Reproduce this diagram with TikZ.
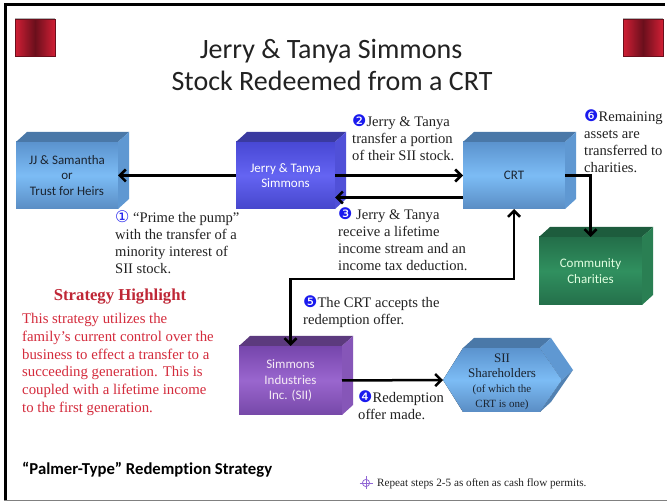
\documentclass[tikz,border=0pt]{standalone}
\usepackage{fontspec}
\setmainfont{Liberation Serif}
\newfontfamily\calfont[Ligatures=NoCommon]{Carlito}
\newfontfamily\symfont{DejaVu Sans}
\usetikzlibrary{arrows.meta,calc}
\definecolor{numblue}{HTML}{1A1AEE}
\definecolor{stratred}{HTML}{D42B3C}
\definecolor{sqred}{HTML}{D01F35}
\definecolor{sqdark}{HTML}{6B0F1C}
\definecolor{txtgray}{HTML}{222222}
\definecolor{blueA}{HTML}{5B93CE}
\definecolor{blueB}{HTML}{7CBCF5}
\definecolor{blueC}{HTML}{5A8DC4}
\definecolor{blueTop}{HTML}{4A78A8}
\definecolor{blueSide}{HTML}{5F98D2}
\definecolor{darktext}{HTML}{1B2430}
\definecolor{purA}{HTML}{4848D4}
\definecolor{purB}{HTML}{6464F2}
\definecolor{purC}{HTML}{4646CC}
\definecolor{purTop}{HTML}{3A3AA0}
\definecolor{purSide}{HTML}{5050D8}
\definecolor{grA}{HTML}{236E49}
\definecolor{grB}{HTML}{30905F}
\definecolor{grC}{HTML}{246F4A}
\definecolor{grTop}{HTML}{1D5C3D}
\definecolor{grSide}{HTML}{2A7F53}
\definecolor{viA}{HTML}{7646AC}
\definecolor{viB}{HTML}{9A66CE}
\definecolor{viC}{HTML}{7648A8}
\definecolor{viTop}{HTML}{5C3A7E}
\definecolor{viSide}{HTML}{8656B8}
\newcommand\cn[1]{{\symfont\fontsize{16}{16}\selectfont\color{numblue}#1}}
\newcommand\cubefaces[3]{%
  \fill[#2] (#1.north west) -- ++(11,-10) -- ([shift={(11,-10)}]#1.north east) -- (#1.north east) -- cycle;
  \fill[#3] (#1.north east) -- ++(11,-10) -- ([shift={(11,-10)}]#1.south east) -- (#1.south east) -- cycle;}
\tikzset{
  face/.style={inner sep=0pt, outer sep=0pt, align=center, font=\calfont\fontsize{13}{15.5}\selectfont},
  lbl/.style={anchor=north west, inner sep=0pt, align=left, text=txtgray, font=\fontsize{14.6}{17.3}\selectfont},
  arr/.style={line width=2.5pt, -{Straight Barb[length=6pt,width=12pt]}},
  arrb/.style={line width=2.5pt, {Straight Barb[length=6pt,width=12pt]}-{Straight Barb[length=6pt,width=12pt]}},
  redsq/.style={left color=sqred, right color=sqred, middle color=sqdark, draw=sqdark, line width=0.6pt}
}
\begin{document}
\begin{tikzpicture}[x=1pt,y=-1pt]
\useasboundingbox (0,0) rectangle (667,502);
\fill[white] (0,0) rectangle (667,502);
% frame
\draw[line width=3pt] (5.5,500) -- (5.5,4.5) -- (665,4.5);
\draw[gray, line width=1.5pt] (4,500.5) -- (667,500.5);
% red squares
\draw[gray!60, line width=1pt] (15,18.5) -- (55,18.5) (15,57) -- (55,57);
\draw[gray!60, line width=1pt] (623,18.5) -- (663,18.5) (623,57) -- (663,57);
\path[redsq] (15,19.5) rectangle (55,56);
\path[redsq] (623,19.5) rectangle (663,56);
% title
\node[font=\calfont\fontsize{28}{33}\selectfont, anchor=base, text=txtgray] (t1) at (331,59) {Jerry \& Tanya Simmons};
\node[font=\calfont\fontsize{28}{33}\selectfont, anchor=base, text=txtgray] (t2) at (332,91) {Stock Redeemed from a CRT};
% boxes
\node[face, minimum width=102pt, minimum height=67pt, top color=blueA, bottom color=blueC, middle color=blueB, text=darktext] (jj) at (67,175.5) {JJ \& Samantha\\or\\Trust for Heirs};
\cubefaces{jj}{blueTop}{blueSide}
\node[face, minimum width=99pt, minimum height=67pt, top color=purA, bottom color=purC, middle color=purB, text=white] (jerry) at (285.5,175.5) {Jerry \& Tanya\\Simmons};
\cubefaces{jerry}{purTop}{purSide}
\node[face, minimum width=102pt, minimum height=67pt, top color=blueA, bottom color=blueC, middle color=blueB, text=darktext] (crt) at (514,175.5) {CRT};
\cubefaces{crt}{blueTop}{blueSide}
\node[face, minimum width=103pt, minimum height=68pt, top color=grA, bottom color=grC, middle color=grB, text=white!88!green] (comm) at (590.5,271) {Community\\Charities};
\cubefaces{comm}{grTop}{grSide}
\node[face, minimum width=103pt, minimum height=69pt, top color=viA, bottom color=viC, middle color=viB, text=white!92!violet] (sii) at (290.5,380.5) {Simmons\\Industries\\Inc. (SII)};
\cubefaces{sii}{viTop}{viSide}
% hexagon
\fill[top color=blueA, bottom color=blueC, middle color=blueB] (443,380) -- (463,348) -- (540,348) -- (562,380) -- (540,412) -- (463,412) -- cycle;
\fill[blueTop] (463,348) -- (474,338) -- (551,338) -- (540,348) -- cycle;
\fill[blueSide] (540,348) -- (551,338) -- (573,370) -- (562,380) -- cycle;
\fill[blueSide!85!black] (562,380) -- (573,370) -- (551,402) -- (540,412) -- cycle;
\coordinate (shl) at (443,380);
\node[align=center, inner sep=0pt, text=darktext, font=\fontsize{13}{15.5}\selectfont] (sh) at (502,382) {SII\\Shareholders\\[-1pt]\fontsize{11}{13.5}\selectfont (of which the\\\fontsize{11}{13.5}\selectfont CRT is one)};
% connectors
\draw[arr] (jerry.west) -- (jj.east);
\draw[arr] (jerry.east) -- (crt.west);
\draw[arr] ([yshift=-22pt]crt.west) -- ([yshift=-22pt]jerry.east);
\draw[arr] (crt.east) -| (comm.north);
\draw[arrb] (sii.north) -- ++(0,-67) -| (crt.south);
\draw[arr] (sii.east) -- (shl);
% labels
\node[lbl] (l1) at (115,210) {\cn{①} “Prime the pump”\\with the transfer of a\\minority interest of\\SII stock.};
\node[lbl] (l2) at (352,114) {\cn{❷}Jerry \& Tanya\\transfer a portion\\of their SII stock.};
\node[lbl] (l3) at (338,207) {\cn{❸} Jerry \& Tanya\\receive a lifetime\\income stream and an\\income tax deduction.};
\node[lbl] (l6) at (584,109) {\cn{❻}Remaining\\assets are\\transferred to\\charities.};
\node[lbl] (l5) at (303,295) {\cn{❺}The CRT accepts the\\redemption offer.};
\node[lbl] (l4) at (358,390) {\cn{❹}Redemption\\offer made.};
% strategy
\node[font=\bfseries\fontsize{16.7}{19}\selectfont, text=stratred!90!black] (sth) at (120,297) {Strategy Highlight};
\node[lbl, text=stratred, font=\fontsize{14.8}{17.8}\selectfont] (stt) at (22,313) {This strategy utilizes the\\family’s current control over the\\business to effect a transfer to a\\succeeding generation. This is\\coupled with a lifetime income\\to the first generation.};
\node[font=\calfont\bfseries\fontsize{16.7}{19}\selectfont, anchor=west, inner sep=0pt, text=black] (palmer) at (22,470) {“Palmer-Type” Redemption Strategy};
% repeat note
\draw[blue!45!violet!60!white, line width=0.8pt] (366,483) circle (3.6);
\draw[blue!45!violet!60!white, line width=0.8pt] (359.5,483) -- (372.5,483) (366,476.5) -- (366,489.5);
\node[anchor=west, inner sep=0pt, font=\fontsize{11.2}{13}\selectfont, text=txtgray] (rep) at (377,484) {Repeat steps 2-5 as often as cash flow permits.};
\end{tikzpicture}
\end{document}
